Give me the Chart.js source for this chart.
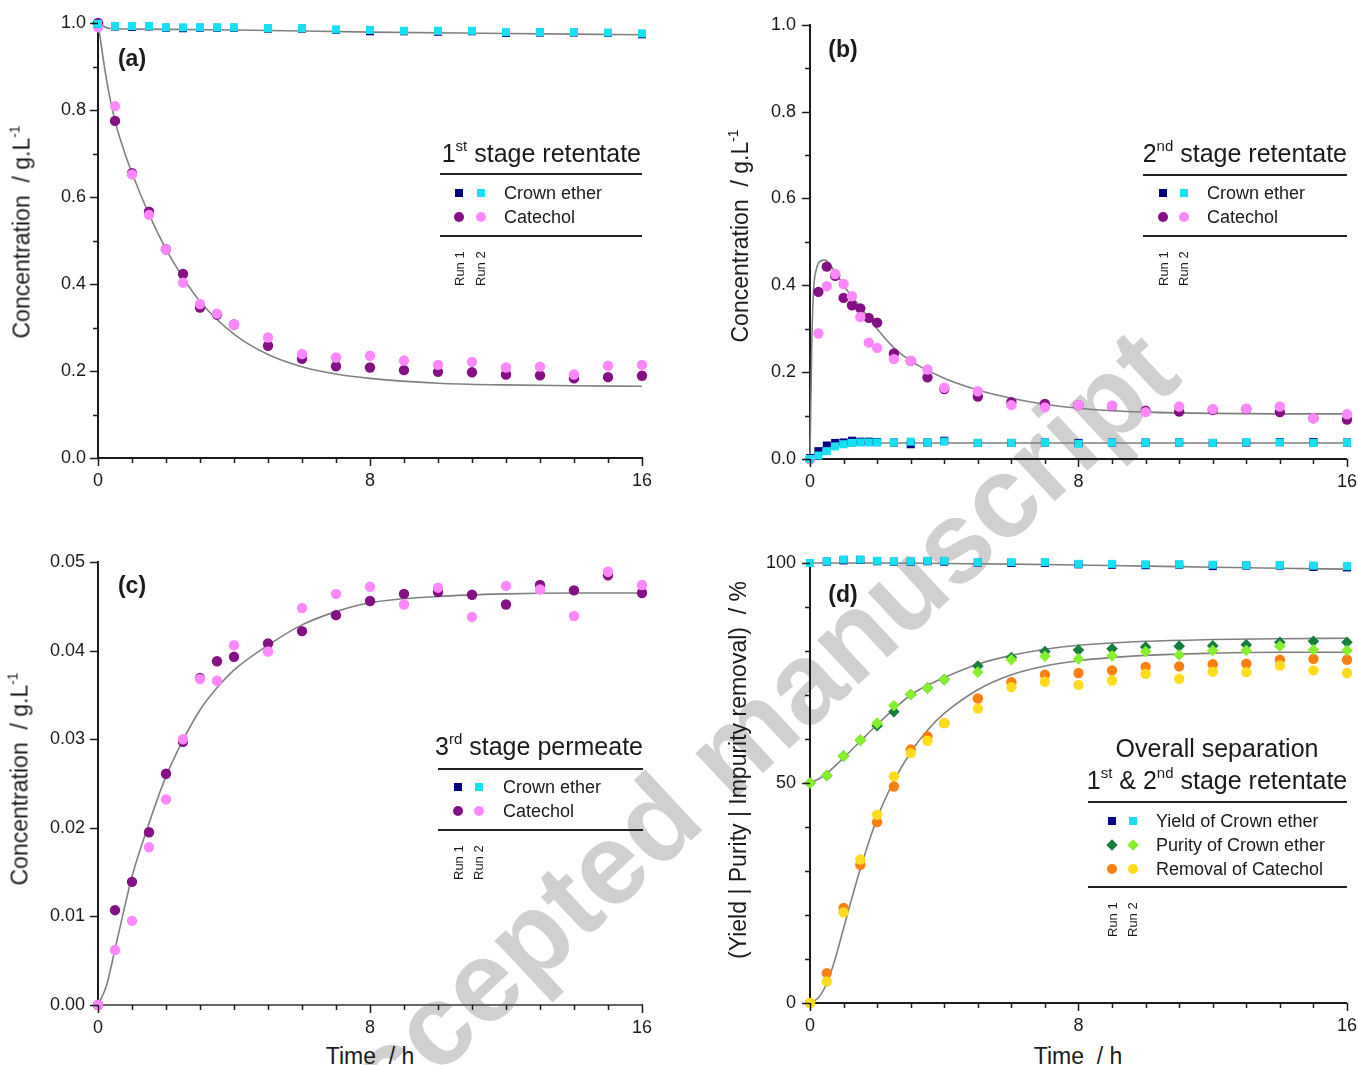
<!DOCTYPE html>
<html>
<head>
<meta charset="utf-8">
<script src="https://cdn.jsdelivr.net/npm/chart.js@4.4.1/dist/chart.umd.min.js"></script>
<style>
  body { margin: 0; background: #fff; width: 1358px; height: 1065px; overflow: hidden; position: relative;
         font-family: "Liberation Sans", Arial, sans-serif; color: #1a1a1a; }
  canvas { position: absolute; }
  .t { position: absolute; white-space: pre; line-height: 1; }
  .t sup { font-size: 0.6em; vertical-align: 0; position: relative; top: -0.75em; }
  .rule { position: absolute; height: 2px; background: #222; }
  .mk { position: absolute; transform: translate(-50%, -50%); }
  #wm { left: 263px; top: 1107px; font-size: 115px; font-weight: bold; color: #d0d0d0;
        transform-origin: 0 0; transform: rotate(-43deg); }
</style>
</head>
<body>
<div class="t" id="wm">Accepted manuscript</div>
<canvas id="chart-a" width="679" height="500" style="left:0px;top:0px;width:679px;height:500px"></canvas>
<canvas id="chart-b" width="669" height="500" style="left:700px;top:0px;width:669px;height:500px"></canvas>
<canvas id="chart-c" width="679" height="510" style="left:0px;top:530px;width:679px;height:510px"></canvas>
<canvas id="chart-d" width="669" height="510" style="left:700px;top:530px;width:669px;height:510px"></canvas>
<script>
// sampling times (h)
const timesA = [0, 0.5, 1, 1.5, 2, 2.5, 3, 3.5, 4, 5, 6, 7, 8, 9, 10, 11, 12, 13, 14, 15, 16];
const timesB = [0, 0.25, 0.5, 0.75, 1, 1.25, 1.5, 1.75, 2, 2.5, 3, 3.5, 4, 5, 6, 7, 8, 9, 10, 11, 12, 13, 14, 15, 16];

// (a) 1st stage retentate, g/L
const crownA1 = [0.998, 0.992, 0.991, 0.992, 0.989, 0.988, 0.989, 0.989, 0.989, 0.987, 0.987, 0.984, 0.981, 0.981, 0.980, 0.981, 0.977, 0.978, 0.978, 0.977, 0.974];
const crownA2 = [0.998, 0.993, 0.993, 0.993, 0.990, 0.990, 0.990, 0.990, 0.990, 0.988, 0.988, 0.985, 0.984, 0.982, 0.982, 0.982, 0.979, 0.979, 0.979, 0.978, 0.976];
const catA1 = [1.0, 0.775, 0.655, 0.566, 0.480, 0.423, 0.346, 0.330, 0.307, 0.258, 0.228, 0.211, 0.208, 0.202, 0.198, 0.197, 0.192, 0.190, 0.183, 0.186, 0.189];
const catA2 = [0.99, 0.809, 0.652, 0.559, 0.480, 0.403, 0.354, 0.332, 0.307, 0.277, 0.239, 0.231, 0.235, 0.224, 0.214, 0.221, 0.208, 0.210, 0.192, 0.212, 0.214];
const fitCrownTimesA = [0, 0.3, 1, 4, 8, 12, 16];
const fitCrownA = [1.0, 0.988, 0.986, 0.984, 0.979, 0.976, 0.973];
const fitCatTimesA = [0, 0.25, 0.5, 0.75, 1, 1.5, 2, 2.5, 3, 4, 5, 6, 7, 8, 10, 12, 14, 16];
const fitCatA = [1.0, 0.87, 0.775, 0.71, 0.655, 0.56, 0.48, 0.415, 0.36, 0.285, 0.238, 0.21, 0.193, 0.183, 0.172, 0.168, 0.166, 0.165];

// (b) 2nd stage retentate, g/L
const crownB1 = [0.002, 0.018, 0.031, 0.037, 0.038, 0.042, 0.040, 0.040, 0.039, 0.038, 0.034, 0.038, 0.042, 0.037, 0.037, 0.038, 0.037, 0.038, 0.038, 0.038, 0.037, 0.038, 0.039, 0.039, 0.038];
const crownB2 = [0.0, 0.008, 0.018, 0.029, 0.034, 0.037, 0.038, 0.038, 0.038, 0.038, 0.040, 0.038, 0.040, 0.037, 0.037, 0.038, 0.035, 0.038, 0.038, 0.038, 0.037, 0.039, 0.038, 0.037, 0.038];
const catB1 = [0.0, 0.385, 0.443, 0.422, 0.371, 0.354, 0.347, 0.325, 0.314, 0.243, 0.226, 0.188, 0.161, 0.144, 0.131, 0.127, 0.124, 0.122, 0.111, 0.109, 0.113, 0.115, 0.108, 0.094, 0.091];
const catB2 = [0.0, 0.289, 0.398, 0.426, 0.403, 0.375, 0.327, 0.268, 0.256, 0.230, 0.226, 0.206, 0.164, 0.156, 0.124, 0.119, 0.124, 0.123, 0.108, 0.121, 0.115, 0.116, 0.121, 0.094, 0.103];
const fitCrownTimesB = [0, 0.25, 0.5, 1, 1.5, 2, 16];
const fitCrownB = [0, 0.02, 0.03, 0.036, 0.037, 0.037, 0.037];
const fitCatTimesB = [0, 0.05, 0.1, 0.2, 0.3, 0.45, 0.6, 0.8, 1, 1.5, 2, 2.5, 3, 4, 5, 6, 7, 8, 9, 10, 12, 14, 16];
const fitCatB = [0, 0.25, 0.38, 0.44, 0.455, 0.458, 0.447, 0.425, 0.40, 0.35, 0.30, 0.256, 0.226, 0.186, 0.159, 0.14, 0.126, 0.117, 0.111, 0.108, 0.105, 0.104, 0.104];

// (c) 3rd stage permeate, g/L
const catC1 = [0, 0.0107, 0.0139, 0.0195, 0.0261, 0.0297, 0.0369, 0.0388, 0.0393, 0.0408, 0.0422, 0.0440, 0.0456, 0.0464, 0.0466, 0.0463, 0.0452, 0.0474, 0.0468, 0.0485, 0.0465];
const catC2 = [0, 0.0062, 0.0095, 0.0178, 0.0232, 0.0300, 0.0368, 0.0366, 0.0406, 0.0399, 0.0448, 0.0464, 0.0472, 0.0452, 0.0471, 0.0438, 0.0473, 0.0469, 0.0439, 0.0489, 0.0474];
const fitCrownTimesC = [0, 16];
const fitCrownC = [0, 0];
const fitCatTimesC = [0, 0.25, 0.5, 0.75, 1, 1.5, 2, 2.5, 3, 3.5, 4, 5, 6, 7, 8, 10, 12, 14, 16];
const fitCatC = [0, 0.0022, 0.0063, 0.0105, 0.0145, 0.0205, 0.0258, 0.0299, 0.0333, 0.0358, 0.0378, 0.0406, 0.0429, 0.0444, 0.0454, 0.0461, 0.0464, 0.0465, 0.0465];

// (d) overall separation, %
const yieldD1 = [100, 100.3, 100.6, 100.7, 100.4, 100.3, 100.3, 100.4, 100.3, 100.1, 100.0, 100.0, 99.7, 99.6, 99.5, 99.6, 99.3, 99.4, 99.4, 99.1, 99.0];
const yieldD2 = [100, 100.4, 100.8, 100.8, 100.5, 100.4, 100.4, 100.5, 100.5, 100.2, 100.2, 100.2, 99.8, 99.8, 99.7, 99.7, 99.6, 99.5, 99.5, 99.4, 99.3];
const purityD1 = [50, 51.7, 56.1, 59.7, 63.0, 66.2, 70.1, 71.6, 73.5, 76.6, 78.5, 79.9, 80.2, 80.5, 80.9, 81.1, 81.2, 81.4, 82.0, 82.2, 82.0];
const purityD2 = [50, 51.7, 56.1, 59.7, 63.6, 67.6, 70.1, 71.6, 73.5, 75.2, 78.0, 78.8, 78.2, 78.9, 79.9, 79.1, 80.1, 80.1, 81.1, 80.3, 80.1];
const removalD1 = [0, 6.8, 21.6, 31.4, 41.1, 49.2, 57.6, 60.6, 63.6, 69.2, 72.9, 74.6, 75.0, 75.6, 76.4, 76.5, 77.0, 77.1, 78.0, 78.2, 78.0];
const removalD2 = [0, 4.9, 20.6, 32.6, 42.8, 51.5, 56.8, 59.6, 63.6, 66.9, 71.8, 73.0, 72.3, 73.3, 74.8, 73.7, 75.3, 75.2, 76.7, 75.6, 75.0];
const fitYieldTimesD = [0, 2, 4, 6, 8, 10, 12, 14, 16];
const fitYieldD = [100, 100, 99.9, 99.75, 99.55, 99.3, 99.05, 98.8, 98.6];
const fitTimesD = [0, 0.25, 0.5, 0.75, 1, 1.5, 2, 2.5, 3, 3.5, 4, 5, 6, 7, 8, 10, 12, 14, 16];
const fitPurityD = [50, 50.9, 52.2, 53.9, 55.7, 59.5, 63.3, 66.8, 70.0, 72.2, 74.0, 77.0, 79.0, 80.4, 81.3, 82.2, 82.6, 82.8, 82.9];
const fitRemovalD = [0, 1.2, 4.5, 10, 17, 30.5, 42, 50.5, 57, 62, 65.8, 71.2, 74.6, 76.6, 77.8, 79.0, 79.5, 79.7, 79.7];

// colours
const navy = '#000080', cyan = '#16e0f2', plum = '#850f85', pink = '#ff88ff';
const darkGreen = '#157f3f', lightGreen = '#86f02c', orange = '#ff8012', yellow = '#ffdc1e';
const fitGray = '#808080', ink = '#1a1a1a';
const FONT = '"Liberation Sans", Arial, sans-serif';

function pts(xs, ys) {
    return xs.map((x, i) => ({ x: x, y: ys[i] }));
}

function pointSet(label, xs, ys, color, style, r) {
    return {
        label: label,
        data: pts(xs, ys),
        showLine: false,
        pointStyle: style,
        pointRadius: r,
        pointHoverRadius: r,
        pointBackgroundColor: color,
        pointBorderWidth: 0,
        clip: false
    };
}

function fitSet(label, xs, ys) {
    return {
        label: label,
        data: pts(xs, ys),
        showLine: true,
        borderColor: fitGray,
        borderWidth: 1.6,
        pointRadius: 0,
        cubicInterpolationMode: 'monotone',
        fill: false,
        clip: false
    };
}

// short ticks for every step, longer where a label is shown
const tickMarks = {
    id: 'tickMarks',
    afterDraw(chart) {
        const ctx = chart.ctx;
        const xs = chart.scales.x, ys = chart.scales.y;
        ctx.save();
        ctx.strokeStyle = ink;
        ctx.lineWidth = 1.5;
        xs.ticks.forEach(t => {
            const px = Math.round(xs.getPixelForValue(t.value)) + 0.5;
            const len = t.label !== '' ? 8 : 5;
            ctx.beginPath();
            ctx.moveTo(px, xs.top);
            ctx.lineTo(px, xs.top + len);
            ctx.stroke();
        });
        ys.ticks.forEach(t => {
            const py = Math.round(ys.getPixelForValue(t.value)) + 0.5;
            const len = t.label !== '' ? 8 : 5;
            ctx.beginPath();
            ctx.moveTo(ys.right, py);
            ctx.lineTo(ys.right - len, py);
            ctx.stroke();
        });
        ctx.restore();
    }
};

function makeChart(id, datasets, yScale, geom) {
    return new Chart(document.getElementById(id), {
        type: 'scatter',
        data: { datasets: datasets },
        options: {
            responsive: false,
            animation: false,
            devicePixelRatio: 1,
            layout: { padding: { top: geom.top, right: geom.right, left: 0, bottom: 0 } },
            plugins: { legend: { display: false }, tooltip: { enabled: false } },
            scales: {
                x: {
                    type: 'linear', min: 0, max: 16,
                    afterFit: s => { s.height = geom.xh; },
                    grid: { display: false, drawTicks: false },
                    border: { display: true, color: ink, width: 2 },
                    ticks: {
                        stepSize: 1, autoSkip: false, maxRotation: 0, padding: 12,
                        color: ink, font: { size: 18, family: FONT },
                        callback: v => (v % 8 === 0 ? String(v) : '')
                    }
                },
                y: {
                    type: 'linear', min: yScale.min, max: yScale.max,
                    afterFit: s => { s.width = geom.yw; },
                    grid: { display: false, drawTicks: false },
                    border: { display: true, color: ink, width: 2 },
                    ticks: {
                        stepSize: yScale.step, autoSkip: false, padding: geom.ypad,
                        color: ink, font: { size: 18, family: FONT },
                        callback: yScale.label
                    }
                }
            }
        },
        plugins: [tickMarks]
    });
}

const concLabel = v => (Math.round(v * 10) % 2 === 0 ? v.toFixed(1) : '');

makeChart('chart-a', [
    pointSet('Crown ether run 2', timesA, crownA2, cyan, 'rect', 5.7),
    pointSet('Crown ether run 1', timesA, crownA1, navy, 'rect', 5.7),
    pointSet('Catechol run 2', timesA, catA2, pink, 'circle', 5.2),
    pointSet('Catechol run 1', timesA, catA1, plum, 'circle', 5.2),
    fitSet('Crown ether fit', fitCrownTimesA, fitCrownA),
    fitSet('Catechol fit', fitCatTimesA, fitCatA)
], { min: 0, max: 1, step: 0.1, label: concLabel },
   { top: 23, right: 37, yw: 98, xh: 42, ypad: 12 });

makeChart('chart-b', [
    pointSet('Crown ether run 2', timesB, crownB2, cyan, 'rect', 5.7),
    pointSet('Crown ether run 1', timesB, crownB1, navy, 'rect', 5.7),
    pointSet('Catechol run 2', timesB, catB2, pink, 'circle', 5.2),
    pointSet('Catechol run 1', timesB, catB1, plum, 'circle', 5.2),
    fitSet('Crown ether fit', fitCrownTimesB, fitCrownB),
    fitSet('Catechol fit', fitCatTimesB, fitCatB)
], { min: 0, max: 1, step: 0.1, label: concLabel },
   { top: 23, right: 22, yw: 110, xh: 41, ypad: 14 });

makeChart('chart-c', [
    pointSet('Catechol run 2', timesA, catC2, pink, 'circle', 5.2),
    pointSet('Catechol run 1', timesA, catC1, plum, 'circle', 5.2),
    fitSet('Crown ether fit', fitCrownTimesC, fitCrownC),
    fitSet('Catechol fit', fitCatTimesC, fitCatC)
], { min: 0, max: 0.05, step: 0.01, label: v => v.toFixed(2) },
   { top: 32, right: 37, yw: 98, xh: 35, ypad: 13 });

makeChart('chart-d', [
    pointSet('Yield run 2', timesA, yieldD2, cyan, 'rect', 5.7),
    pointSet('Yield run 1', timesA, yieldD1, navy, 'rect', 5.7),
    pointSet('Purity run 2', timesA, purityD2, lightGreen, 'rectRot', 5.8),
    pointSet('Purity run 1', timesA, purityD1, darkGreen, 'rectRot', 5.8),
    pointSet('Removal run 2', timesA, removalD2, yellow, 'circle', 5.2),
    pointSet('Removal run 1', timesA, removalD1, orange, 'circle', 5.2),
    fitSet('Yield fit', fitYieldTimesD, fitYieldD),
    fitSet('Purity fit', fitTimesD, fitPurityD),
    fitSet('Removal fit', fitTimesD, fitRemovalD)
], { min: 0, max: 100, step: 10, label: v => (v % 50 === 0 ? String(v) : '') },
   { top: 33, right: 22, yw: 110, xh: 37, ypad: 14 });

// ---- text overlays: axis titles, panel letters, legends ----
function put(html, css) {
    const d = document.createElement('div');
    d.className = 't';
    d.innerHTML = html;
    Object.assign(d.style, css);
    document.body.appendChild(d);
    return d;
}

function rule(x1, x2, y) {
    const d = document.createElement('div');
    d.className = 'rule';
    Object.assign(d.style, { left: x1 + 'px', top: (y - 1) + 'px', width: (x2 - x1) + 'px' });
    document.body.appendChild(d);
}

function marker(shape, color, x, y) {
    const d = document.createElement('div');
    d.className = 'mk';
    const size = shape === 'circle' ? 10 : 8;
    Object.assign(d.style, {
        left: x + 'px', top: y + 'px', width: size + 'px', height: size + 'px',
        background: color,
        borderRadius: shape === 'circle' ? '50%' : '0'
    });
    if (shape === 'diamond') d.style.transform = 'translate(-50%, -50%) rotate(45deg)';
    document.body.appendChild(d);
}

function yTitle(html, cx, cy) {
    put(html, { left: cx + 'px', top: cy + 'px', fontSize: '23px', transform: 'translate(-50%, -50%) rotate(-90deg)' });
}

function runLabels(x1, x2, bottom) {
    [['Run 1', x1], ['Run 2', x2]].forEach(([txt, x]) => {
        put(txt, { left: x + 'px', top: bottom + 'px', fontSize: '13px', transformOrigin: '0 0',
                   transform: 'rotate(-90deg) translateY(-50%)' });
    });
}

function legend(cfg) {
    cfg.titles.forEach(t => {
        const shift = t.align === 'right' ? '-100%' : '-50%';
        put(t.html, { left: t.x + 'px', top: t.y + 'px', fontSize: '25px', transform: 'translate(' + shift + ', -50%)' });
    });
    rule(cfg.x1, cfg.x2, cfg.line1);
    cfg.rows.forEach((r, i) => {
        const y = cfg.rowY[i];
        marker(r.shape, r.c1, cfg.m1, y);
        marker(r.shape, r.c2, cfg.m2, y);
        put(r.text, { left: cfg.tx + 'px', top: y + 'px', fontSize: '18px', transform: 'translateY(-50%)' });
    });
    rule(cfg.x1, cfg.x2, cfg.line2);
    runLabels(cfg.m1, cfg.m2 - 1, cfg.runBottom);
}

const stageRows = [
    { shape: 'square', c1: navy, c2: cyan, text: 'Crown ether' },
    { shape: 'circle', c1: plum, c2: pink, text: 'Catechol' }
];

legend({ titles: [{ html: '1<sup>st</sup> stage retentate', x: 641, y: 153, align: 'right' }],
         x1: 440, x2: 642, line1: 174, line2: 236, rowY: [193, 217], m1: 459, m2: 481, tx: 504,
         rows: stageRows, runBottom: 286 });
legend({ titles: [{ html: '2<sup>nd</sup> stage retentate', x: 1347, y: 153, align: 'right' }],
         x1: 1143, x2: 1347, line1: 175, line2: 236, rowY: [193, 217], m1: 1163, m2: 1184, tx: 1207,
         rows: stageRows, runBottom: 286 });
legend({ titles: [{ html: '3<sup>rd</sup> stage permeate', x: 643, y: 746, align: 'right' }],
         x1: 438, x2: 643, line1: 769, line2: 830, rowY: [787, 811], m1: 458, m2: 479, tx: 503,
         rows: stageRows, runBottom: 880 });
legend({ titles: [{ html: 'Overall separation', x: 1217, y: 748, align: 'center' },
                  { html: '1<sup>st</sup> &amp; 2<sup>nd</sup> stage retentate', x: 1217, y: 780, align: 'center' }],
         x1: 1088, x2: 1347, line1: 802, line2: 887, rowY: [821, 845, 869], m1: 1112, m2: 1133, tx: 1156,
         rows: [
             { shape: 'square', c1: navy, c2: cyan, text: 'Yield of Crown ether' },
             { shape: 'diamond', c1: darkGreen, c2: lightGreen, text: 'Purity of Crown ether' },
             { shape: 'circle', c1: orange, c2: yellow, text: 'Removal of Catechol' }
         ], runBottom: 937 });

// axis titles
yTitle('Concentration  / g.L<sup>-1</sup>', 22, 232);
yTitle('Concentration  / g.L<sup>-1</sup>', 740, 236);
yTitle('Concentration  / g.L<sup>-1</sup>', 20, 779);
yTitle('(Yield | Purity | Impurity removal)  / %', 738, 770);
put('Time  / h', { left: '370px', top: '1056px', fontSize: '23px', transform: 'translate(-50%, -50%)' });
put('Time  / h', { left: '1078px', top: '1056px', fontSize: '23px', transform: 'translate(-50%, -50%)' });

// panel letters
[['(a)', 132, 58], ['(b)', 843, 49], ['(c)', 132, 585], ['(d)', 843, 594]].forEach(([txt, x, y]) => {
    put(txt, { left: x + 'px', top: y + 'px', fontSize: '23px', fontWeight: 'bold', transform: 'translate(-50%, -50%)' });
});
</script>
</body>
</html>
